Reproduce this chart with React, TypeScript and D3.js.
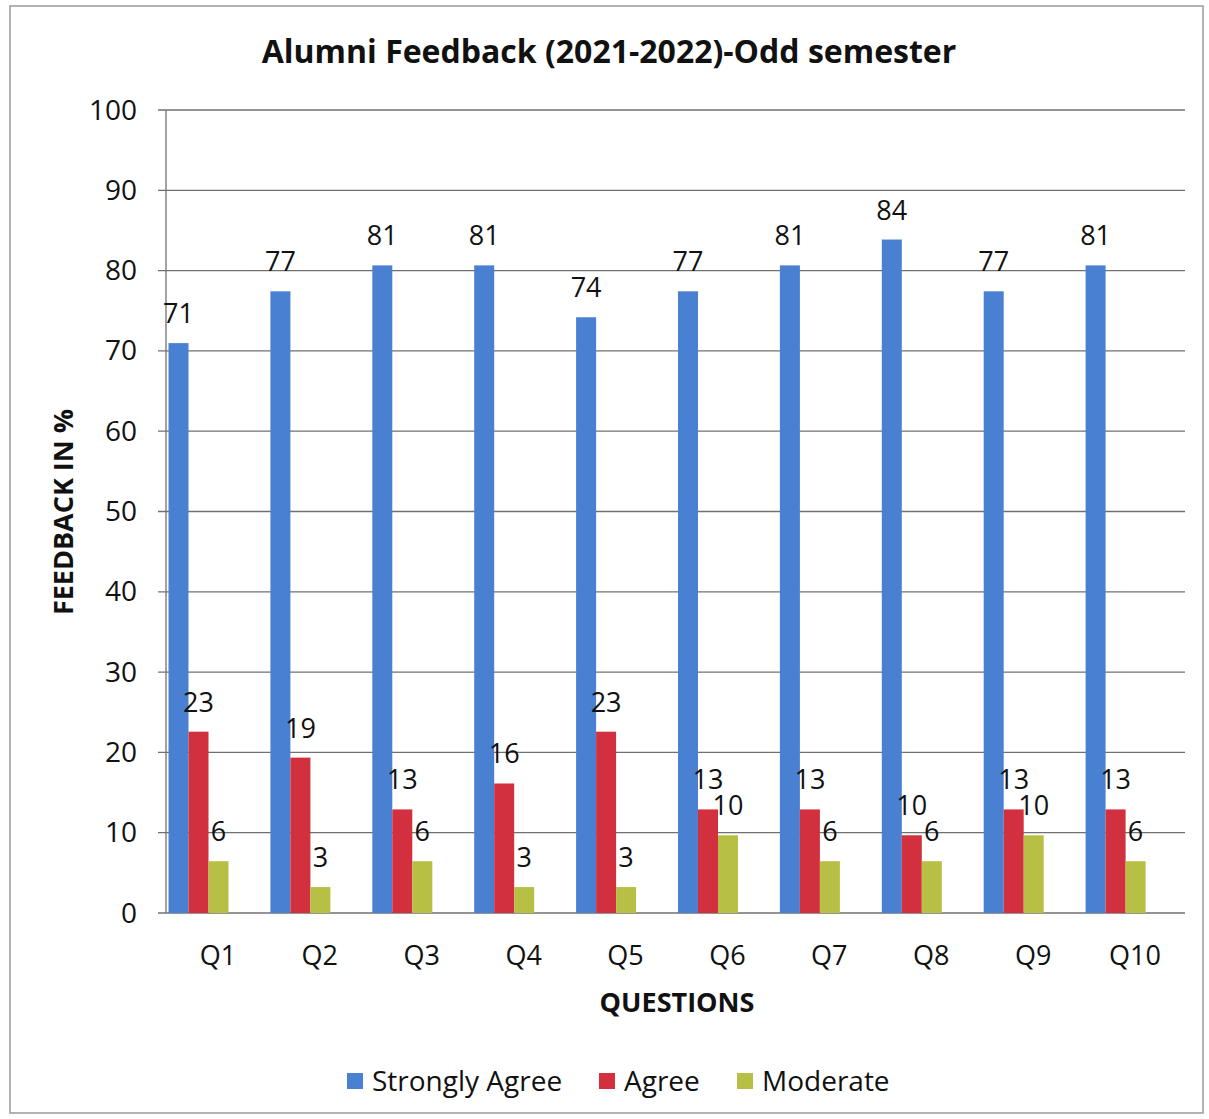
import * as d3 from "d3";
import React, { useEffect, useRef } from "react";

const questions = ["Q1", "Q2", "Q3", "Q4", "Q5", "Q6", "Q7", "Q8", "Q9", "Q10"];
const stronglyAgree = [70.97, 77.42, 80.65, 80.65, 74.19, 77.42, 80.65, 83.87, 77.42, 80.65];
const agree = [22.58, 19.35, 12.9, 16.13, 22.58, 12.9, 12.9, 9.68, 12.9, 12.9];
const moderate = [6.45, 3.23, 6.45, 3.23, 3.23, 9.68, 6.45, 6.45, 9.68, 6.45];
const seriesNames = ["Strongly Agree", "Agree", "Moderate"];
const yTicks = [0, 10, 20, 30, 40, 50, 60, 70, 80, 90, 100];

const colors = ["#4a80d2", "#d3303f", "#b7bf44"];
const font = "'Open Sans', Lato, sans-serif";

const App = () => {
  const ref = useRef<SVGSVGElement>(null);

  useEffect(() => {
    const W = 1209;
    const H = 1119;
    const svg = d3.select(ref.current);
    svg.selectAll("*").remove();

    const left = 166, right = 1185, top = 110, bottom = 913;

    // outer frame
    svg.append("rect")
      .attr("x", 10).attr("y", 6)
      .attr("width", W - 16).attr("height", H - 12)
      .attr("fill", "#fff")
      .attr("stroke", "#9a9a9a")
      .attr("stroke-width", 1.5);

    const x = d3.scaleBand<string>().domain(questions).range([left, right]).padding(0);
    const inner = d3.scaleBand<string>().domain(seriesNames).range([2.5, 62.5]).padding(0);
    const y = d3.scaleLinear().domain([0, 100]).range([bottom, top]);

    // grid
    svg.append("g")
      .selectAll("line")
      .data(yTicks)
      .join("line")
      .attr("x1", left - 8)
      .attr("x2", right)
      .attr("y1", (d) => y(d))
      .attr("y2", (d) => y(d))
      .attr("stroke", "#707070")
      .attr("stroke-width", 1.3);

    svg.append("line")
      .attr("x1", left).attr("x2", left)
      .attr("y1", top).attr("y2", bottom)
      .attr("stroke", "#707070")
      .attr("stroke-width", 1.3);

    // y tick labels
    svg.append("g")
      .selectAll("text")
      .data(yTicks)
      .join("text")
      .attr("x", 137)
      .attr("y", (d) => y(d))
      .attr("dy", "0.34em")
      .attr("text-anchor", "end")
      .attr("font-family", font)
      .attr("font-size", 28)
      .attr("fill", "#111")
      .text((d) => d);

    const series = [stronglyAgree, agree, moderate];

    series.forEach((vals, si) => {
      const name = seriesNames[si];
      const g = svg.append("g");
      g.selectAll("rect")
        .data(vals)
        .join("rect")
        .attr("x", (_, i) => (x(questions[i]) as number) + (inner(name) as number))
        .attr("y", (d) => y(d))
        .attr("width", inner.bandwidth())
        .attr("height", (d) => bottom - y(d))
        .attr("fill", colors[si]);

      g.selectAll("text")
        .data(vals)
        .join("text")
        .attr("x", (_, i) => (x(questions[i]) as number) + (inner(name) as number) + inner.bandwidth() / 2)
        .attr("y", (d) => y(d) - 20)
        .attr("text-anchor", "middle")
        .attr("font-family", font)
        .attr("font-size", 27)
        .attr("fill", "#111")
        .text((d) => Math.round(d));
    });

    // x tick labels
    svg.append("g")
      .selectAll("text")
      .data(questions)
      .join("text")
      .attr("x", (d) => (x(d) as number) + x.bandwidth() / 2 + 1)
      .attr("y", 965)
      .attr("text-anchor", "middle")
      .attr("font-family", font)
      .attr("font-size", 27)
      .attr("fill", "#111")
      .text((d) => d);

    // titles
    svg.append("text")
      .attr("x", 609).attr("y", 63)
      .attr("text-anchor", "middle")
      .attr("font-family", font)
      .attr("font-weight", "bold")
      .attr("font-size", 32)
      .attr("fill", "#111")
      .text("Alumni Feedback (2021-2022)-Odd semester");

    svg.append("text")
      .attr("x", 677).attr("y", 1012)
      .attr("text-anchor", "middle")
      .attr("font-family", font)
      .attr("font-weight", "bold")
      .attr("font-size", 27)
      .attr("fill", "#111")
      .text("QUESTIONS");

    svg.append("text")
      .attr("transform", "translate(73,512) rotate(-90)")
      .attr("text-anchor", "middle")
      .attr("font-family", font)
      .attr("font-weight", "bold")
      .attr("font-size", 27)
      .attr("fill", "#111")
      .text("FEEDBACK IN %");

    // legend
    const legendX = [347, 599, 737];
    const lg = svg.append("g")
      .selectAll("g")
      .data(seriesNames)
      .join("g")
      .attr("transform", (_, i) => `translate(${legendX[i]},1081)`);
    lg.append("rect")
      .attr("x", 0).attr("y", -8)
      .attr("width", 16).attr("height", 16)
      .attr("fill", (_, i) => colors[i]);
    lg.append("text")
      .attr("x", 25)
      .attr("dy", "0.35em")
      .attr("font-family", font)
      .attr("font-size", 28)
      .attr("fill", "#111")
      .text((d) => d);
  }, []);

  return (
    <svg
      ref={ref}
      width={1209}
      height={1119}
      style={{ position: "absolute", left: 0, top: 0, background: "#fff" }}
    />
  );
};

export default App;
